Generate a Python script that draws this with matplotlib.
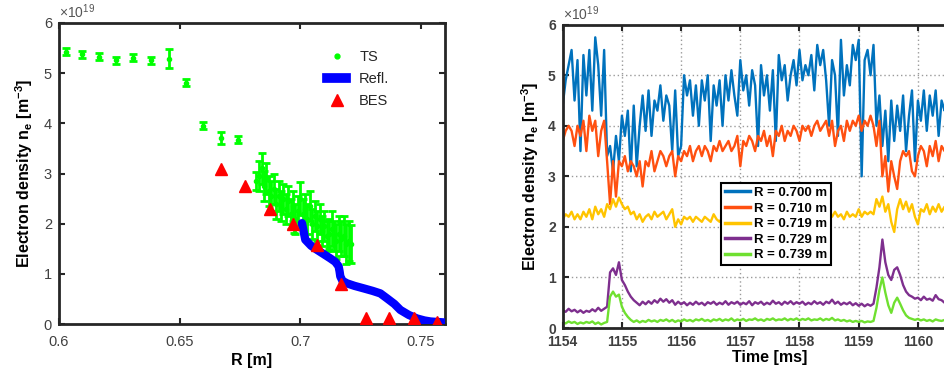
import numpy as np
import matplotlib
matplotlib.use("Agg")
import matplotlib.pyplot as plt
from matplotlib.lines import Line2D

plt.rcParams['font.family'] = ['Liberation Sans', 'DejaVu Sans']
plt.rcParams['mathtext.fontset'] = 'custom'
plt.rcParams['mathtext.rm'] = 'Liberation Sans'
plt.rcParams['mathtext.bf'] = 'Liberation Sans:bold'

# ---------------- Left panel data (units of 1e19 m^-3) ----------------
ts_R = [0.6028, 0.6097, 0.6165, 0.6238, 0.6308, 0.6382, 0.6455, 0.6526, 0.6598, 0.6671, 0.6743,
        0.6815, 0.6830, 0.6840, 0.6850, 0.6860, 0.6870, 0.6880, 0.6890, 0.6900, 0.6910,
        0.6920, 0.6930, 0.6940, 0.6950, 0.6960, 0.6970, 0.6975, 0.6980, 0.6990, 0.7000,
        0.7010, 0.7020, 0.7030, 0.7040, 0.7050, 0.7060, 0.7070, 0.7080, 0.7090, 0.7100,
        0.7110, 0.7120, 0.7130, 0.7140, 0.7150, 0.7160, 0.7170, 0.7180, 0.7190, 0.7200, 0.7210]
ts_ne = [5.43, 5.38, 5.33, 5.26, 5.31, 5.26, 5.29, 4.81, 3.95, 3.71, 3.67,
         2.85, 2.95, 3.10, 2.75, 2.90, 2.65, 2.55, 2.70, 2.40, 2.55,
         2.35, 2.50, 2.30, 2.45, 2.20, 2.35, 1.97, 2.10, 2.25, 2.50,
         2.20, 2.30, 2.10, 2.35, 2.00, 2.15, 1.95, 2.10, 1.85, 1.95,
         1.75, 1.80, 1.90, 1.75, 1.65, 1.80, 1.70, 1.75, 1.60, 1.65, 1.60]
ts_err = [0.07, 0.07, 0.07, 0.07, 0.07, 0.07, 0.19, 0.07, 0.07, 0.12, 0.07,
          0.18, 0.30, 0.30, 0.30, 0.30, 0.30, 0.30, 0.30, 0.30, 0.30,
          0.30, 0.30, 0.30, 0.30, 0.30, 0.30, 0.15, 0.30, 0.30, 0.33,
          0.30, 0.30, 0.30, 0.30, 0.30, 0.30, 0.30, 0.30, 0.30, 0.30,
          0.30, 0.30, 0.35, 0.30, 0.35, 0.35, 0.35, 0.40, 0.40, 0.40, 0.38]

refl_R = [0.7007, 0.7021, 0.7045, 0.7069, 0.7095, 0.7124, 0.7145, 0.7159, 0.7163, 0.7166,
          0.7175, 0.7194, 0.7225, 0.7263, 0.7300, 0.7332, 0.7360, 0.7390, 0.7415, 0.7450,
          0.7484, 0.7515, 0.7540, 0.7570, 0.7600]
refl_ne = [2.01, 1.68, 1.56, 1.48, 1.40, 1.31, 1.24, 1.15, 1.05, 0.95,
           0.86, 0.81, 0.76, 0.71, 0.66, 0.61, 0.51, 0.40, 0.28, 0.18,
           0.11, 0.07, 0.05, 0.04, 0.03]

bes_R = [0.6672, 0.6772, 0.6873, 0.6971, 0.7071, 0.7170, 0.7273, 0.7369, 0.7470, 0.7568]
bes_ne = [3.08, 2.75, 2.29, 2.00, 1.58, 0.80, 0.11, 0.11, 0.11, 0.03]

# ---------------- Right panel data (units of 1e19 m^-3), step 0.05 ms from 1154.00 ----------------
t_start = 1154.0
t_step = 0.05
labels_R = ['R = 0.700 m', 'R = 0.710 m', 'R = 0.719 m', 'R = 0.729 m', 'R = 0.739 m']

ne_700 = [4.4, 4.9, 5.2, 5.5, 4.5, 5.3, 3.5, 5.4, 4.6, 5.5, 4.3, 5.75, 5.2, 4.2, 5.5, 3.4, 3.6, 3.1, 3.8, 3.3,
          4.2, 3.8, 4.3, 3.1, 4.4, 3.2, 4.0, 4.6, 3.9, 4.7, 3.8, 4.5, 4.3, 4.8, 4.1, 4.6, 4.4, 3.5, 4.7, 3.4,
          3.6, 5.0, 4.6, 4.9, 4.2, 4.8, 4.0, 4.9, 4.5, 5.0, 3.7, 4.8, 4.4, 4.9, 4.0, 5.0, 4.5, 5.1, 4.6, 4.2,
          5.3, 4.7, 5.0, 4.4, 5.1, 4.8, 3.6, 5.2, 4.6, 5.0, 4.3, 5.1, 3.7, 5.4, 4.9, 5.2, 4.5, 5.0, 5.3, 4.8,
          5.5, 4.9, 5.2, 5.0, 5.4, 4.7, 5.6, 5.2, 5.5, 4.9, 4.0, 5.3, 5.0, 3.8, 5.7, 4.6, 5.2, 4.8, 5.6, 5.3,
          5.7, 3.0, 5.3, 5.5, 5.0, 5.6, 4.0, 4.6, 3.6, 4.3, 3.3, 4.5, 3.7, 4.4, 3.9, 4.6, 3.5, 4.2, 4.7, 3.3,
          4.5, 4.1, 4.7, 3.9, 4.6, 4.2, 4.7, 3.8, 4.5, 4.3, 4.6]
ne_710 = [3.7, 3.9, 4.0, 3.9, 3.6, 4.0, 3.8, 4.1, 3.5, 4.2, 3.9, 4.1, 3.4, 3.9, 4.1, 3.3, 2.45, 3.3, 2.6, 3.3,
          3.2, 3.4, 3.1, 3.3, 3.2, 3.0, 3.3, 2.8, 3.3, 3.2, 3.5, 3.1, 3.3, 3.5, 3.4, 3.2, 3.4, 3.5, 3.0, 3.4,
          3.3, 3.5, 3.4, 3.6, 3.3, 3.5, 3.6, 3.4, 3.6, 3.5, 3.3, 3.6, 3.5, 3.7, 3.5, 3.6, 3.7, 3.5, 3.6, 3.8,
          3.2, 3.7, 3.6, 3.8, 3.7, 3.5, 3.8, 3.7, 3.9, 3.6, 3.8, 3.4, 3.9, 3.8, 4.0, 3.7, 3.9, 3.8, 4.0, 3.9,
          3.7, 4.0, 3.9, 4.0, 3.8, 4.0, 4.1, 3.9, 4.0, 4.1, 3.8, 4.1, 3.6, 3.9, 4.0, 3.7, 4.1, 3.9, 4.1, 4.0,
          4.2, 3.9, 4.1, 4.0, 4.2, 4.0, 3.6, 4.1, 3.0, 3.4, 2.7, 3.3, 3.0, 2.75, 3.3, 3.5, 3.4, 3.5, 3.1, 3.0,
          3.4, 3.6, 3.5, 3.2, 3.6, 3.4, 3.7, 3.3, 3.6, 3.5, 3.7]
ne_719 = [2.15, 2.25, 2.20, 2.30, 2.15, 2.25, 2.15, 2.30, 2.20, 2.35, 2.15, 2.40, 2.25, 2.35, 2.20, 2.45, 2.35, 2.55, 2.40, 2.58,
          2.45, 2.35, 2.40, 2.25, 2.30, 2.15, 2.25, 2.10, 2.20, 2.25, 2.15, 2.30, 2.20, 2.25, 2.30, 2.15, 2.25, 2.35, 2.00, 2.15,
          2.05, 2.20, 2.15, 2.20, 2.10, 2.20, 2.15, 2.10, 2.20, 2.15, 2.10, 2.25, 2.15, 2.10, 2.20, 2.10, 2.15, 2.25, 2.15, 2.20,
          2.10, 2.20, 2.15, 2.25, 2.10, 2.20, 2.15, 2.20, 2.10, 2.25, 2.15, 2.20, 2.10, 2.20, 2.15, 2.25, 2.15, 2.20, 2.10, 2.25,
          2.15, 2.20, 2.15, 2.25, 2.10, 2.20, 2.15, 2.25, 2.20, 2.15, 2.25, 2.20, 2.30, 2.20, 2.25, 2.15, 2.30, 2.20, 2.25, 2.20,
          2.35, 2.20, 2.30, 2.25, 2.30, 2.25, 2.55, 2.40, 2.60, 2.30, 2.45, 2.10, 1.90, 2.35, 2.55, 2.35, 2.50, 2.30, 2.45, 2.20,
          2.05, 2.35, 2.30, 2.45, 2.25, 2.40, 2.30, 2.45, 2.30, 2.40, 2.35]
ne_729 = [0.35, 0.32, 0.38, 0.33, 0.36, 0.31, 0.35, 0.30, 0.34, 0.32, 0.37, 0.33, 0.40, 0.34, 0.38, 0.42, 1.10, 1.18, 1.05, 1.30,
          0.95, 0.85, 0.72, 0.62, 0.55, 0.50, 0.45, 0.52, 0.47, 0.53, 0.48, 0.55, 0.50, 0.58, 0.52, 0.57, 0.50, 0.55, 0.46, 0.52,
          0.47, 0.51, 0.45, 0.50, 0.46, 0.52, 0.47, 0.50, 0.45, 0.51, 0.48, 0.52, 0.46, 0.50, 0.47, 0.53, 0.46, 0.51, 0.48, 0.52,
          0.46, 0.50, 0.47, 0.53, 0.45, 0.51, 0.48, 0.52, 0.46, 0.50, 0.47, 0.54, 0.48, 0.51, 0.46, 0.52, 0.48, 0.53, 0.47, 0.51,
          0.48, 0.52, 0.46, 0.50, 0.47, 0.53, 0.48, 0.51, 0.46, 0.52, 0.49, 0.56, 0.48, 0.52, 0.46, 0.50, 0.47, 0.51, 0.45, 0.49,
          0.44, 0.48, 0.43, 0.47, 0.44, 0.48, 0.80, 1.20, 1.75, 1.30, 1.05, 0.95, 1.15, 1.20, 1.05, 0.85, 0.72, 0.65, 0.62, 0.58,
          0.60, 0.55, 0.62, 0.56, 0.58, 0.54, 0.65, 0.57, 0.55, 0.50, 0.53]
ne_739 = [0.12, 0.09, 0.13, 0.10, 0.12, 0.08, 0.11, 0.09, 0.12, 0.10, 0.13, 0.08, 0.11, 0.07, 0.10, 0.12, 0.62, 0.72, 0.62, 0.66,
          0.42, 0.30, 0.22, 0.16, 0.12, 0.15, 0.11, 0.14, 0.12, 0.16, 0.13, 0.15, 0.12, 0.16, 0.14, 0.17, 0.13, 0.16, 0.12, 0.15,
          0.13, 0.17, 0.14, 0.16, 0.13, 0.17, 0.15, 0.18, 0.14, 0.16, 0.13, 0.17, 0.15, 0.18, 0.14, 0.17, 0.15, 0.19, 0.14, 0.17,
          0.15, 0.18, 0.14, 0.17, 0.16, 0.19, 0.15, 0.17, 0.14, 0.18, 0.16, 0.19, 0.15, 0.17, 0.16, 0.19, 0.15, 0.18, 0.16, 0.19,
          0.15, 0.18, 0.16, 0.19, 0.15, 0.17, 0.16, 0.19, 0.15, 0.18, 0.16, 0.20, 0.15, 0.17, 0.14, 0.16, 0.13, 0.15, 0.12, 0.14,
          0.12, 0.14, 0.11, 0.13, 0.12, 0.14, 0.40, 0.75, 1.00, 0.70, 0.45, 0.30, 0.50, 0.60, 0.48, 0.35, 0.25, 0.20, 0.18, 0.16,
          0.18, 0.15, 0.17, 0.14, 0.16, 0.13, 0.17, 0.15, 0.14, 0.16, 0.15]

colors_R = ['#0072BD', '#FF5010', '#FFC400', '#7E2F8E', '#6FE030']

# ---------------- Figure ----------------
W, H = 944, 374
fig = plt.figure(figsize=(W / 100, H / 100), dpi=100)

spine_col = '#262626'

def style_axes(ax, bold=False, size=10.5, xpad=8):
    for s in ax.spines.values():
        s.set_linewidth(2.0)
        s.set_color(spine_col)
    ax.tick_params(direction='in', top=True, right=True, length=4, width=1.5,
                   colors=spine_col, labelsize=size)
    ax.tick_params(axis='x', pad=xpad)
    ax.tick_params(axis='y', pad=5)
    for lab in ax.get_xticklabels() + ax.get_yticklabels():
        lab.set_color('#404040')
        if bold:
            lab.set_fontweight('bold')

# Left axes
axL = fig.add_axes([59 / W, 1 - 324 / H, (445 - 59) / W, (324 - 23) / H])
axL.errorbar(ts_R, ts_ne, yerr=ts_err, fmt='.', color='#00FF00', ecolor='#00FF00',
             elinewidth=2, capsize=3, capthick=2, markersize=6, zorder=3)
axL.plot(refl_R, refl_ne, '-', color='#0000FF', linewidth=6, solid_capstyle='round', zorder=4)
axL.plot(bes_R, bes_ne, '^', color='#FF0000', markersize=8, linestyle='none', zorder=5)
axL.set_xlim(0.6, 0.76)
axL.set_ylim(0, 6)
axL.set_xticks([0.6, 0.65, 0.7, 0.75])
axL.set_xticklabels(['0.6', '0.65', '0.7', '0.75'])
axL.set_yticks([0, 1, 2, 3, 4, 5, 6])
style_axes(axL)
axL.set_xlabel('R [m]', fontweight='bold', fontsize=11.5, labelpad=3)
axL.set_ylabel(r'Electron density n$_\mathbf{e}$ [m$^\mathbf{-3}$]', fontweight='bold', fontsize=11.5, labelpad=6)
axL.text(0.0, 1.005, r'$\times$10$^{19}$', transform=axL.transAxes, fontsize=10, color='#555555',
         ha='left', va='bottom')

h_ts = Line2D([], [], marker='.', color='#00FF00', linestyle='none', markersize=7)
h_refl = Line2D([], [], color='#0000FF', linewidth=7)
h_bes = Line2D([], [], marker='^', color='#FF0000', linestyle='none', markersize=8)
legL = axL.legend([h_ts, h_refl, h_bes], ['TS', 'Refl.', 'BES'], loc='upper right',
                  bbox_to_anchor=(0.89, 0.955), frameon=False, fontsize=10.5,
                  handlelength=1.3, labelspacing=0.55, handletextpad=0.9)
for txt in legL.get_texts():
    txt.set_color('#262626')

# Right axes (extends past the right edge of the figure)
x0 = 562.7
px_per_ms = 59.2
xr = x0 + 7 * px_per_ms
axR = fig.add_axes([x0 / W, 1 - 328 / H, (xr - x0) / W, (328 - 24.7) / H])
series = [ne_700, ne_710, ne_719, ne_729, ne_739]
for vals, col, lab in zip(series, colors_R, labels_R):
    t = t_start + t_step * np.arange(len(vals))
    axR.plot(t, vals, color=col, linewidth=1.7, label=lab)
axR.set_xlim(1154, 1161)
axR.set_ylim(0, 6)
axR.set_xticks(np.arange(1154, 1161, 1))
axR.set_yticks([0, 1, 2, 3, 4, 5, 6])
axR.grid(True, linestyle=(0, (1, 2)), color='#9a9a9a', linewidth=1.0)
axR.set_axisbelow(True)
style_axes(axR, bold=True, size=10, xpad=5)
axR.set_xlabel('Time [ms]', fontweight='bold', fontsize=11.5, labelpad=1)
axR.set_ylabel(r'Electron density n$_\mathbf{e}$ [m$^\mathbf{-3}$]', fontweight='bold', fontsize=11.5, labelpad=5)
axR.text(0.0, 1.005, r'$\times$10$^{19}$', transform=axR.transAxes, fontsize=10, color='#555555',
         ha='left', va='bottom')
legR = axR.legend(loc='center', bbox_to_anchor=((776 - x0) / (xr - x0), (328 - 224) / (328 - 24.7)),
                  prop={'weight': 'bold', 'size': 9.5}, frameon=True, fancybox=False,
                  edgecolor='black', framealpha=1, borderpad=0.3, labelspacing=0.25,
                  handlelength=1.9, handletextpad=0.3, borderaxespad=0)
legR.get_frame().set_linewidth(1.5)
for line in legR.get_lines():
    line.set_linewidth(2.5)

fig.savefig('out.png', dpi=100)
